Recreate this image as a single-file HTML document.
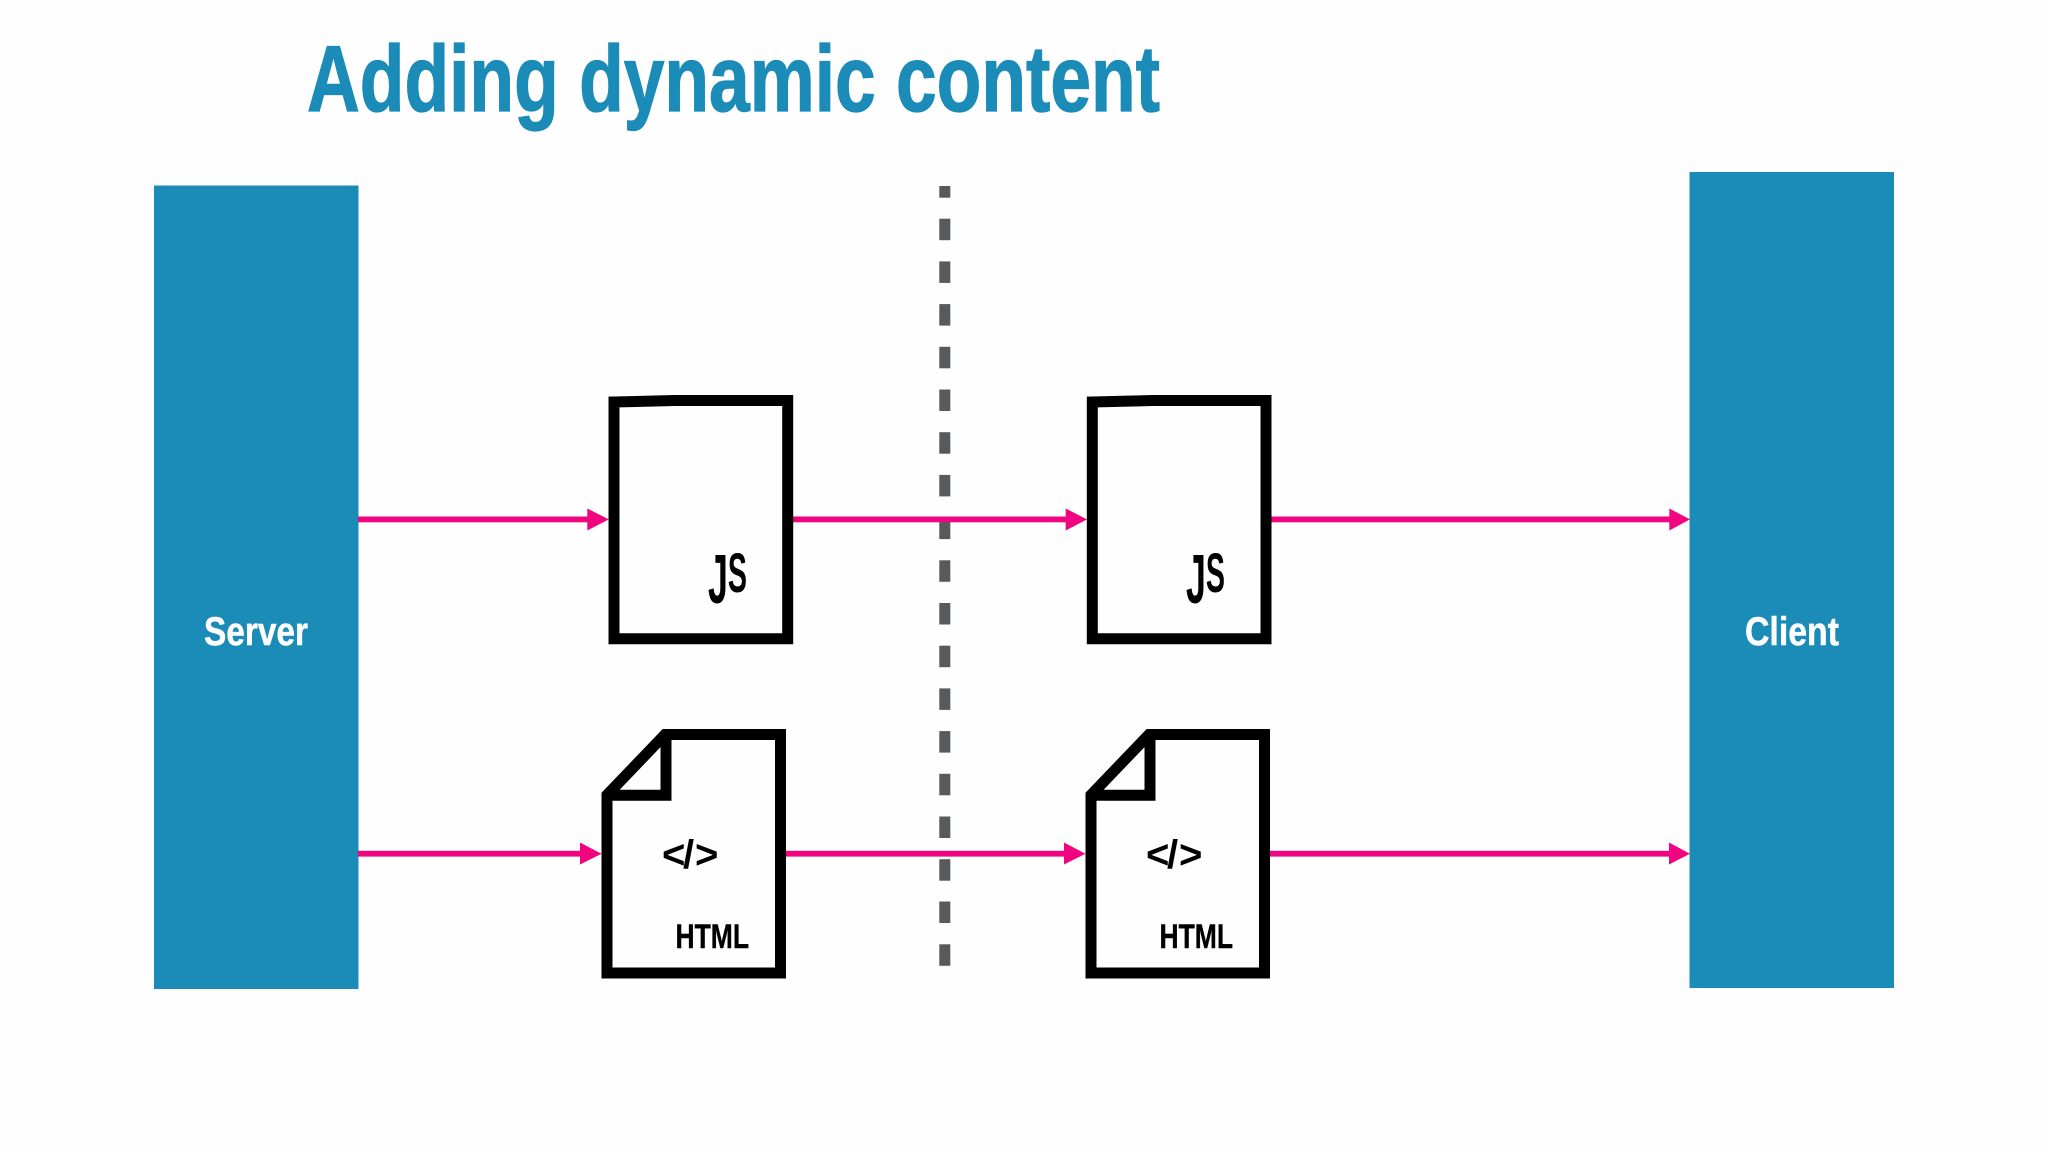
<!DOCTYPE html>
<html>
<head>
<meta charset="utf-8">
<style>
html,body{margin:0;padding:0;background:#fefefe;}
svg{display:block;}
text{font-family:"Liberation Sans Narrow","Liberation Sans",sans-serif;font-weight:700;}
</style>
</head>
<body>
<svg width="2048" height="1152" viewBox="0 0 2048 1152" xmlns="http://www.w3.org/2000/svg">
<rect width="2048" height="1152" fill="#fefefe"/>
<text x="307" y="111" font-size="94" fill="#1b8bb8" stroke="#1b8bb8" stroke-width="1.2" textLength="853" lengthAdjust="spacingAndGlyphs">Adding dynamic content</text>

<rect x="154" y="185.5" width="204.5" height="803.5" fill="#1b8bb8"/>
<rect x="1689.5" y="172" width="204.5" height="816" fill="#1b8bb8"/>
<text x="204" y="645" font-size="40" fill="#ffffff" stroke="#ffffff" stroke-width="0.5" textLength="104" lengthAdjust="spacingAndGlyphs">Server</text>
<text x="1745" y="645" font-size="40" fill="#ffffff" stroke="#ffffff" stroke-width="0.5" textLength="94" lengthAdjust="spacingAndGlyphs">Client</text>

<g fill="#58595b">
<rect x="939.3" y="186" width="11" height="11.7"/>
<rect x="939.3" y="218.7" width="11" height="21.5"/>
<rect x="939.3" y="261.4" width="11" height="21.5"/>
<rect x="939.3" y="304.1" width="11" height="21.5"/>
<rect x="939.3" y="346.8" width="11" height="21.5"/>
<rect x="939.3" y="389.5" width="11" height="21.5"/>
<rect x="939.3" y="432.2" width="11" height="21.5"/>
<rect x="939.3" y="474.9" width="11" height="21.5"/>
<rect x="939.3" y="517.6" width="11" height="21.5"/>
<rect x="939.3" y="560.3" width="11" height="21.5"/>
<rect x="939.3" y="603" width="11" height="21.5"/>
<rect x="939.3" y="645.7" width="11" height="21.5"/>
<rect x="939.3" y="688.4" width="11" height="21.5"/>
<rect x="939.3" y="731.1" width="11" height="21.5"/>
<rect x="939.3" y="773.8" width="11" height="21.5"/>
<rect x="939.3" y="816.5" width="11" height="21.5"/>
<rect x="939.3" y="859.2" width="11" height="21.5"/>
<rect x="939.3" y="901.5" width="11" height="21.5"/>
<rect x="939.3" y="944.3" width="11" height="21.5"/>
</g>

<g fill="#f0047f">
<rect x="358" y="516.5" width="232" height="5.8"/>
<polygon points="587.3,508.5 608.8,519.4 587.3,530.5"/>
<rect x="792" y="516.5" width="276" height="5.8"/>
<polygon points="1065.7,508.5 1087,519.4 1065.7,530.5"/>
<rect x="1270" y="516.5" width="402" height="5.8"/>
<polygon points="1669.3,508.5 1690,519.4 1669.3,530.5"/>
<rect x="358" y="850.8" width="225" height="5.8"/>
<polygon points="580,842.5 601.5,853.7 580,864.5"/>
<rect x="785" y="850.8" width="282" height="5.8"/>
<polygon points="1064,842.5 1085.5,853.7 1064,864.5"/>
<rect x="1269" y="850.8" width="403" height="5.8"/>
<polygon points="1669,842.5 1690,853.7 1669,864.5"/>
</g>

<g fill="none" stroke="#000" stroke-width="11" stroke-linejoin="miter">
<path d="M614 402 L675 400.5 H787.7 V638.7 H614 Z"/>
<path d="M1092.3 402 L1153.3 400.5 H1266 V638.7 H1092.3 Z"/>
<path d="M607 973 V795 L665 734.5 H780.5 V973 Z"/>
<path d="M666 734.5 V795.3 H607"/>
<path d="M1091 973 V795 L1149 734.5 H1264.5 V973 Z"/>
<path d="M1150 734.5 V795.3 H1091"/>
</g>

<text x="708" y="603" font-size="70" fill="#000" textLength="39" lengthAdjust="spacingAndGlyphs">J<tspan dy="-11" font-size="56">S</tspan></text>
<text x="1186" y="603" font-size="70" fill="#000" textLength="39" lengthAdjust="spacingAndGlyphs">J<tspan dy="-11" font-size="56">S</tspan></text>

<text x="662 683 695" y="868" font-size="40" fill="#000">&lt;/&gt;</text>
<text x="1146 1167 1179" y="868" font-size="40" fill="#000">&lt;/&gt;</text>
<text x="675.5" y="948" font-size="34" fill="#000" stroke="#000" stroke-width="0.4" textLength="73.5" lengthAdjust="spacingAndGlyphs">HTML</text>
<text x="1159.5" y="948" font-size="34" fill="#000" stroke="#000" stroke-width="0.4" textLength="73.5" lengthAdjust="spacingAndGlyphs">HTML</text>
</svg>
</body>
</html>
